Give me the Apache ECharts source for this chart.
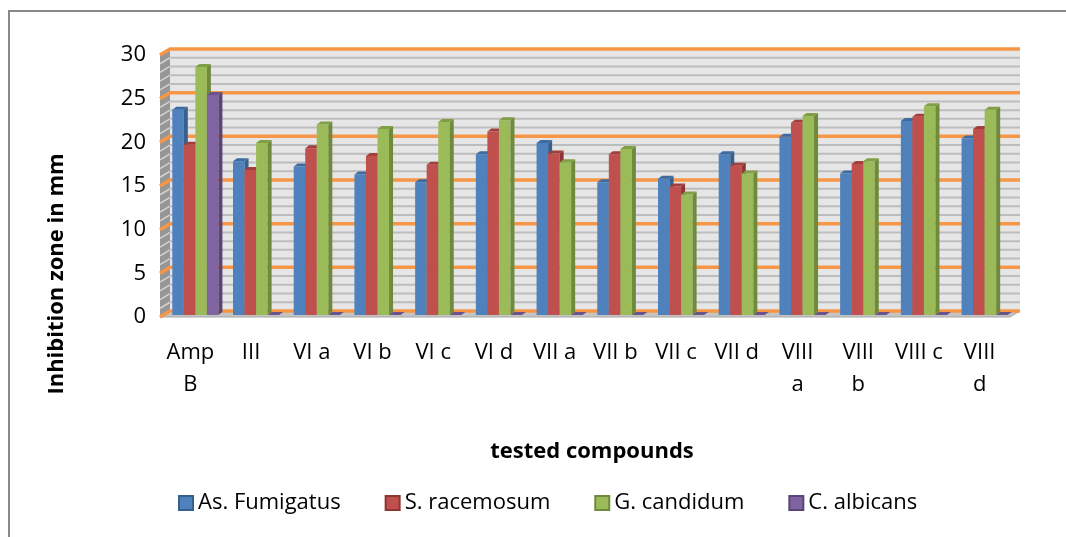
<!DOCTYPE html>
<html>
<head>
<meta charset="utf-8">
<script src="https://cdn.jsdelivr.net/npm/echarts@6/dist/echarts.min.js"></script>
<style>
html, body { margin: 0; padding: 0; background: #fff; }
#chart { width: 1066px; height: 537px; }
</style>
</head>
<body>
<div id="chart"></div>
<script>
// data
var categories = ['Amp B', 'III', 'VI a', 'VI b', 'VI c', 'VI d', 'VII a', 'VII b', 'VII c', 'VII d', 'VIII a', 'VIII b', 'VIII c', 'VIII d'];
var wrappedLabels = ['Amp B', 'VIII a', 'VIII b', 'VIII d'];
var seriesNames = ['As. Fumigatus', 'S. racemosum', 'G. candidum', 'C. albicans'];
var fumigatus = [23.5, 17.6, 17.0, 16.1, 15.2, 18.4, 19.7, 15.2, 15.6, 18.4, 20.4, 16.2, 22.2, 20.2];
var racemosum = [19.5, 16.6, 19.1, 18.2, 17.2, 21.0, 18.5, 18.4, 14.7, 17.1, 22.0, 17.3, 22.7, 21.3];
var candidum  = [28.4, 19.7, 21.8, 21.3, 22.1, 22.3, 17.5, 19.0, 13.8, 16.2, 22.8, 17.6, 23.9, 23.5];
var albicans  = [25.2, 0, 0, 0, 0, 0, 0, 0, 0, 0, 0, 0, 0, 0];
var yMin = 0, yMax = 30, yStep = 5;

var palette = [
  { front: '#4f81bd', side: '#37608f', top: '#3d6aa1' },
  { front: '#c0504d', side: '#8f3533', top: '#a23f3c' },
  { front: '#9bbb59', side: '#6f8a3c', top: '#809f45' },
  { front: '#8064a2', side: '#5a4577', top: '#6a528a' }
];

var D = 10, DY = 6;      // wall depth
var bd = 4, bdy = 3;     // bar depth
var font = '"Open Sans", "DejaVu Sans", sans-serif';

function renderWalls(params, api) {
  var cs = params.coordSys;
  var x = cs.x, y = cs.y, w = cs.width, h = cs.height;
  var kids = [];
  kids.push({ type: 'rect', shape: { x: x + D, y: y - DY, width: w, height: h }, style: { fill: '#e6e6e6' } });
  kids.push({ type: 'polygon', shape: { points: [[x, y], [x + D, y - DY], [x + D, y + h - DY], [x, y + h]] }, style: { fill: '#969696' } });
  for (var v = yMin; v <= yMax; v++) {
    if (v % yStep === 0) continue;
    var yy = api.coord([0, v])[1];
    kids.push({ type: 'line', shape: { x1: x + D, y1: yy - DY, x2: x + D + w, y2: yy - DY }, style: { stroke: '#bdbdbd', lineWidth: 2 } });
    kids.push({ type: 'line', shape: { x1: x, y1: yy, x2: x + D, y2: yy - DY }, style: { stroke: '#d2d2d2', lineWidth: 1.5 } });
  }
  kids.push({ type: 'polygon', shape: { points: [[x, y + h], [x + D, y + h - DY], [x + D + w, y + h - DY], [x + w, y + h]] }, style: { fill: '#c4c4c4', stroke: '#a6a6a6', lineWidth: 1 } });
  for (var t = yMin; t <= yMax; t += yStep) {
    var ty = api.coord([0, t])[1];
    kids.push({ type: 'polyline', shape: { points: [[x, ty], [x + D, ty - DY], [x + D + w, ty - DY]] }, style: { stroke: '#f79646', lineWidth: 3.5, fill: null } });
  }
  return { type: 'group', children: kids };
}

function makeBarSeries(name, values, i) {
  var c = palette[i];
  return {
    name: name,
    type: 'custom',
    z: 3,
    itemStyle: { color: c.front, borderColor: c.side, borderWidth: 1 },
    data: values.map(function (v, k) { return [k, v]; }),
    encode: { x: 0, y: 1 },
    renderItem: function (params, api) {
      var base = api.coord([api.value(0), 0]);
      var top = api.coord([api.value(0), api.value(1)]);
      var bw = api.size([1, 0])[0] * 0.19;
      var x0 = base[0] - 2 * bw + i * bw + 5;
      var y0 = base[1] - 2, y1 = top[1] - 2;
      return {
        type: 'group',
        children: [
          { type: 'rect', shape: { x: x0, y: y1, width: bw, height: y0 - y1 }, style: { fill: c.front } },
          { type: 'polygon', shape: { points: [[x0 + bw, y1], [x0 + bw + bd, y1 - bdy], [x0 + bw + bd, y0 - bdy], [x0 + bw, y0]] }, style: { fill: c.side } },
          { type: 'polygon', shape: { points: [[x0, y1], [x0 + bd, y1 - bdy], [x0 + bw + bd, y1 - bdy], [x0 + bw, y1]] }, style: { fill: c.top } }
        ]
      };
    }
  };
}

var chart = echarts.init(document.getElementById('chart'));
var option = {
  animation: false,
  grid: { left: 160, right: 56, top: 55, bottom: 220 },
  xAxis: {
    type: 'category',
    data: categories,
    axisLine: { show: false },
    axisTick: { show: false },
    axisLabel: {
      interval: 0,
      margin: 20,
      fontSize: 22,
      lineHeight: 32,
      color: '#000',
      fontFamily: font,
      formatter: function (v) { return wrappedLabels.indexOf(v) >= 0 ? v.replace(' ', '\n') : v; }
    },
    name: 'tested compounds',
    nameLocation: 'middle',
    nameGap: 124,
    nameTextStyle: { fontSize: 22, fontWeight: 'bold', color: '#000', fontFamily: font, padding: [0, 0, 0, 14] }
  },
  yAxis: {
    type: 'value',
    min: yMin,
    max: yMax,
    interval: yStep,
    axisLine: { show: false },
    axisTick: { show: false },
    splitLine: { show: false },
    axisLabel: { margin: 14, fontSize: 22, color: '#000', fontFamily: font }
  },
  legend: {
    data: seriesNames,
    left: 173,
    top: 487,
    icon: 'rect',
    itemWidth: 14,
    itemHeight: 14,
    itemGap: 44,
    textStyle: { fontSize: 22, color: '#000', fontFamily: font }
  },
  graphic: [
    { type: 'rect', shape: { x: 9, y: 11, width: 1100, height: 600 }, style: { fill: null, stroke: '#888', lineWidth: 2 } },
    { type: 'text', x: 57, y: 274, rotation: Math.PI / 2,
      style: { text: 'Inhibition zone in mm', fontSize: 22, fontWeight: 'bold', fontFamily: font, fill: '#000', align: 'center', verticalAlign: 'middle' } }
  ],
  series: [
    { name: 'walls', type: 'custom', z: 1, silent: true, data: [[0, 0]], encode: { x: 0, y: 1 }, renderItem: renderWalls },
    makeBarSeries(seriesNames[0], fumigatus, 0),
    makeBarSeries(seriesNames[1], racemosum, 1),
    makeBarSeries(seriesNames[2], candidum, 2),
    makeBarSeries(seriesNames[3], albicans, 3)
  ]
};
chart.setOption(option);
window.addEventListener('resize', chart.resize);
</script>
</body>
</html>
